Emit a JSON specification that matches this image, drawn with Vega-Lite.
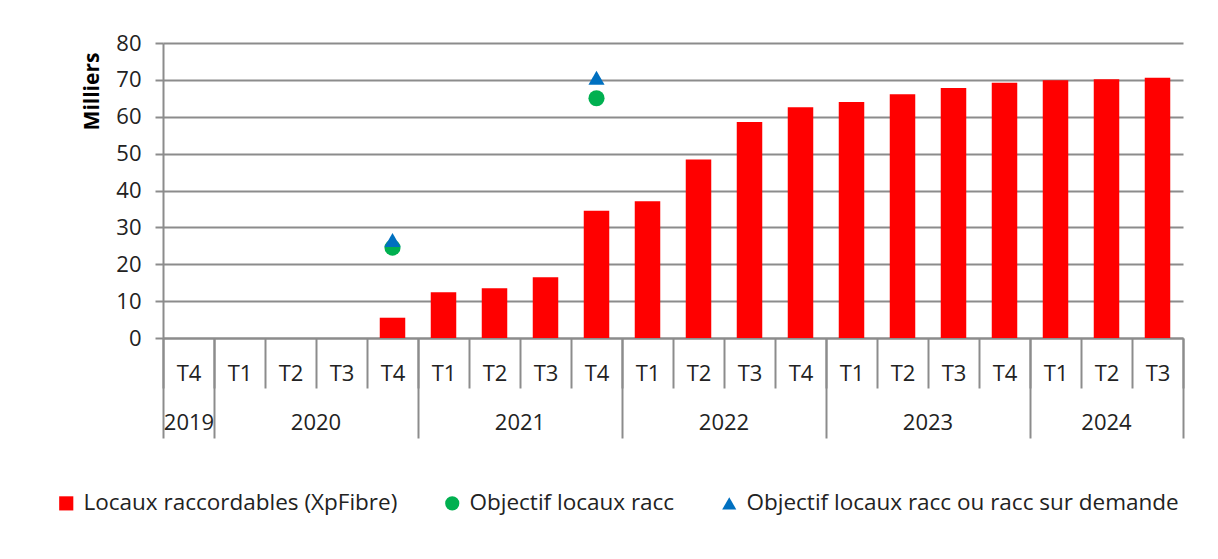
{
  "$schema": "https://vega.github.io/schema/vega-lite/v6.json",
  "width": 1020,
  "height": 295,
  "autosize": "none",
  "padding": {"left": 163, "top": 43, "right": 35, "bottom": 221},
  "background": "white",
  "config": {
    "view": {"stroke": null},
    "font": "Open Sans",
    "axis": {
      "labelFont": "Open Sans",
      "labelColor": "#222222",
      "labelFontSize": 22,
      "domainColor": "#8c8c8c",
      "domainWidth": 2,
      "tickColor": "#8c8c8c",
      "tickWidth": 2,
      "gridColor": "#8c8c8c",
      "gridWidth": 2
    }
  },
  "datasets": {
    "bars": [
      {"cat": "2019 T4", "serie": "Locaux raccordables (XpFibre)", "value": 0},
      {"cat": "2020 T1", "serie": "Locaux raccordables (XpFibre)", "value": 0},
      {"cat": "2020 T2", "serie": "Locaux raccordables (XpFibre)", "value": 0},
      {"cat": "2020 T3", "serie": "Locaux raccordables (XpFibre)", "value": 0},
      {"cat": "2020 T4", "serie": "Locaux raccordables (XpFibre)", "value": 5.5},
      {"cat": "2021 T1", "serie": "Locaux raccordables (XpFibre)", "value": 12.4},
      {"cat": "2021 T2", "serie": "Locaux raccordables (XpFibre)", "value": 13.5},
      {"cat": "2021 T3", "serie": "Locaux raccordables (XpFibre)", "value": 16.5},
      {"cat": "2021 T4", "serie": "Locaux raccordables (XpFibre)", "value": 34.5},
      {"cat": "2022 T1", "serie": "Locaux raccordables (XpFibre)", "value": 37.1},
      {"cat": "2022 T2", "serie": "Locaux raccordables (XpFibre)", "value": 48.4},
      {"cat": "2022 T3", "serie": "Locaux raccordables (XpFibre)", "value": 58.6},
      {"cat": "2022 T4", "serie": "Locaux raccordables (XpFibre)", "value": 62.6},
      {"cat": "2023 T1", "serie": "Locaux raccordables (XpFibre)", "value": 64.0},
      {"cat": "2023 T2", "serie": "Locaux raccordables (XpFibre)", "value": 66.1},
      {"cat": "2023 T3", "serie": "Locaux raccordables (XpFibre)", "value": 67.8},
      {"cat": "2023 T4", "serie": "Locaux raccordables (XpFibre)", "value": 69.2},
      {"cat": "2024 T1", "serie": "Locaux raccordables (XpFibre)", "value": 69.9},
      {"cat": "2024 T2", "serie": "Locaux raccordables (XpFibre)", "value": 70.2},
      {"cat": "2024 T3", "serie": "Locaux raccordables (XpFibre)", "value": 70.6}
    ],
    "objectif_racc": [
      {"cat": "2020 T4", "serie": "Objectif locaux racc", "value": 24.5},
      {"cat": "2021 T4", "serie": "Objectif locaux racc", "value": 65.0}
    ],
    "objectif_demande": [
      {"cat": "2020 T4", "serie": "Objectif locaux racc ou racc sur demande", "value": 26.6},
      {"cat": "2021 T4", "serie": "Objectif locaux racc ou racc sur demande", "value": 70.6}
    ]
  },
  "encoding": {
    "y": {
      "field": "value",
      "type": "quantitative",
      "scale": {"domain": [0, 80], "nice": false, "zero": true},
      "axis": {
        "title": "Milliers",
        "titleFont": "Open Sans",
        "titleFontSize": 21,
        "titleFontWeight": "bold",
        "titleColor": "#000000",
        "titleY": 48,
        "titleAlign": "center",
        "titlePadding": 13,
        "values": [0, 10, 20, 30, 40, 50, 60, 70, 80],
        "tickSize": 8,
        "labelPadding": 14,
        "grid": true
      }
    }
  },
  "layer": [
    {
      "data": {"name": "bars"},
      "mark": {"type": "bar", "width": {"band": 0.5}},
      "encoding": {
        "x": {
          "field": "cat",
          "type": "nominal",
          "sort": null,
          "scale": {
            "domain": ["2019 T4", "2020 T1", "2020 T2", "2020 T3", "2020 T4", "2021 T1", "2021 T2", "2021 T3", "2021 T4", "2022 T1", "2022 T2", "2022 T3", "2022 T4", "2023 T1", "2023 T2", "2023 T3", "2023 T4", "2024 T1", "2024 T2", "2024 T3"],
            "paddingInner": 0,
            "paddingOuter": 0
          },
          "axis": {
            "title": null,
            "orient": "bottom",
            "labelAngle": 0,
            "labelExpr": "split(datum.value, ' ')[1]",
            "tickBand": "extent",
            "tickSize": 50,
            "labelBaseline": "middle",
            "labelPadding": -15,
            "grid": false
          }
        },
        "color": {
          "field": "serie",
          "type": "nominal",
          "scale": {
            "domain": ["Locaux raccordables (XpFibre)", "Objectif locaux racc", "Objectif locaux racc ou racc sur demande"],
            "range": ["#FF0000", "#00B050", "#0070C0"]
          },
          "legend": {
            "title": null,
            "orient": "none",
            "direction": "horizontal",
            "legendX": -108,
            "legendY": 449,
            "labelFont": "Open Sans",
            "labelFontSize": 22.5,
            "labelColor": "#222222",
            "symbolSize": 200,
            "columnPadding": 43,
            "labelOffset": 6,
            "symbolStrokeWidth": 0,
            "labelLimit": 600
          }
        }
      }
    },
    {
      "data": {"name": "objectif_racc"},
      "mark": {"type": "point", "filled": true, "opacity": 1, "size": 260},
      "encoding": {
        "x": {
          "field": "cat",
          "type": "nominal",
          "sort": null,
          "axis": {
            "title": null,
            "orient": "bottom",
            "values": ["2019 T4", "2020 T4", "2021 T4", "2022 T4", "2023 T4", "2024 T3"],
            "tickBand": "extent",
            "tickSize": 100,
            "labelExpr": "datum.value == '2019 T4' ? '2019' : ''",
            "labelAngle": 0,
            "labelBaseline": "middle",
            "labelPadding": -16,
            "domain": false,
            "grid": false
          }
        },
        "color": {"field": "serie", "type": "nominal"},
        "shape": {
          "field": "serie",
          "type": "nominal",
          "scale": {
            "domain": ["Locaux raccordables (XpFibre)", "Objectif locaux racc", "Objectif locaux racc ou racc sur demande"],
            "range": ["square", "circle", "triangle-up"]
          }
        }
      }
    },
    {
      "data": {"name": "objectif_demande"},
      "mark": {"type": "point", "filled": true, "opacity": 1, "size": 260},
      "encoding": {
        "x": {
          "field": "cat",
          "type": "nominal",
          "sort": null,
          "axis": {
            "title": null,
            "orient": "bottom",
            "values": ["2020 T3", "2021 T3", "2022 T3", "2023 T3", "2024 T2"],
            "labelExpr": "split(datum.value, ' ')[0]",
            "labelAngle": 0,
            "labelOffset": {"condition": {"test": "datum.value == '2024 T2'", "value": 0}, "value": -25.5},
            "labelBaseline": "middle",
            "labelPadding": 84,
            "ticks": false,
            "domain": false,
            "grid": false
          }
        },
        "color": {"field": "serie", "type": "nominal"},
        "shape": {"field": "serie", "type": "nominal"}
      }
    }
  ],
  "resolve": {"axis": {"x": "independent"}}
}
